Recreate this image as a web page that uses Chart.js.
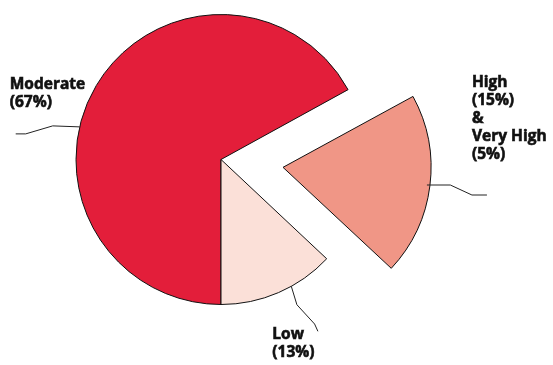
<!DOCTYPE html>
<html>
<head>
<meta charset="utf-8">
<script src="https://cdn.jsdelivr.net/npm/chart.js@4.4.1/dist/chart.umd.min.js"></script>
<style>
  body { margin: 0; background: #fff; }
  #wrap { width: 553px; height: 365px; position: relative; }
</style>
</head>
<body>
<div id="wrap"><canvas id="pieChart"></canvas></div>
<script>
"use strict";

// Data
const categories = ['Moderate', 'High & Very High', 'Low'];
const values = [67, 20, 13];
const labelLines = [
    ['Moderate', '(67%)'],
    ['High', '(15%)', '&', 'Very High', '(5%)'],
    ['Low', '(13%)']
];
const colors = ['#E31E3A', '#F09686', '#FBE0D8'];
const offsets = [0, 250, 0];

// Callouts: angle on the arc (degrees clockwise from top), leader line points and text start, relative to the anchor
const callouts = [
    { angle: 283, line: [[-27, -1], [-54, 7], [-64, 7]], text: [-70, -37.5] },
    { angle: 97, line: [[23.4, 0], [45, 10], [60, 10]], text: [45, -98] },
    { angle: 151, line: [[5.6, 18.4], [23.3, 37.7], [26.6, 45]], text: [-19, 53] }
];

// Plugin that draws the labels with leader lines
const calloutPlugin = {
    id: 'callouts',
    afterDatasetsDraw(chart) {
        const ctx = chart.ctx;
        const arcs = chart.getDatasetMeta(0).data;
        ctx.save();
        arcs.forEach((arc, i) => {
            const c = callouts[i];
            const half = (arc.startAngle + arc.endAngle) / 2;
            const shift = (arc.options.offset || 0) / 4;
            const cx = arc.x + Math.cos(half) * shift;
            const cy = arc.y + Math.sin(half) * shift;
            const a = (c.angle - 90) * Math.PI / 180;
            const ax = cx + Math.cos(a) * arc.outerRadius;
            const ay = cy + Math.sin(a) * arc.outerRadius;

            ctx.beginPath();
            ctx.strokeStyle = '#222';
            ctx.lineWidth = 1;
            ctx.moveTo(ax, ay);
            c.line.forEach((p) => ctx.lineTo(ax + p[0], ay + p[1]));
            ctx.stroke();

            // Tjockare text, nästan som Myriad Bold
            ctx.fillStyle = '#111';
            ctx.strokeStyle = '#111';
            ctx.lineWidth = 0.6;
            ctx.font = 'bold 15.5px "Open Sans", sans-serif';
            ctx.textBaseline = 'alphabetic';
            ctx.textAlign = 'left';
            labelLines[i].forEach((txt, j) => {
                const tx = ax + c.text[0];
                const ty = ay + c.text[1] + j * 18;
                ctx.fillText(txt, tx, ty);
                ctx.strokeText(txt, tx, ty);
            });
        });
        ctx.restore();
    }
};

const ctx = document.getElementById('pieChart');

new Chart(ctx, {
    type: 'pie',
    data: {
        labels: categories,
        datasets: [{
            data: values,
            backgroundColor: colors,
            borderColor: '#111',
            borderWidth: 1,
            offset: offsets
        }]
    },
    options: {
        responsive: true,
        maintainAspectRatio: false,
        animation: false,
        rotation: 180,
        radius: 145,
        layout: {
            padding: { left: 0, right: 111, top: 0, bottom: 46 }
        },
        plugins: {
            legend: { display: false },
            tooltip: { enabled: false }
        }
    },
    plugins: [calloutPlugin]
});
</script>
</body>
</html>
